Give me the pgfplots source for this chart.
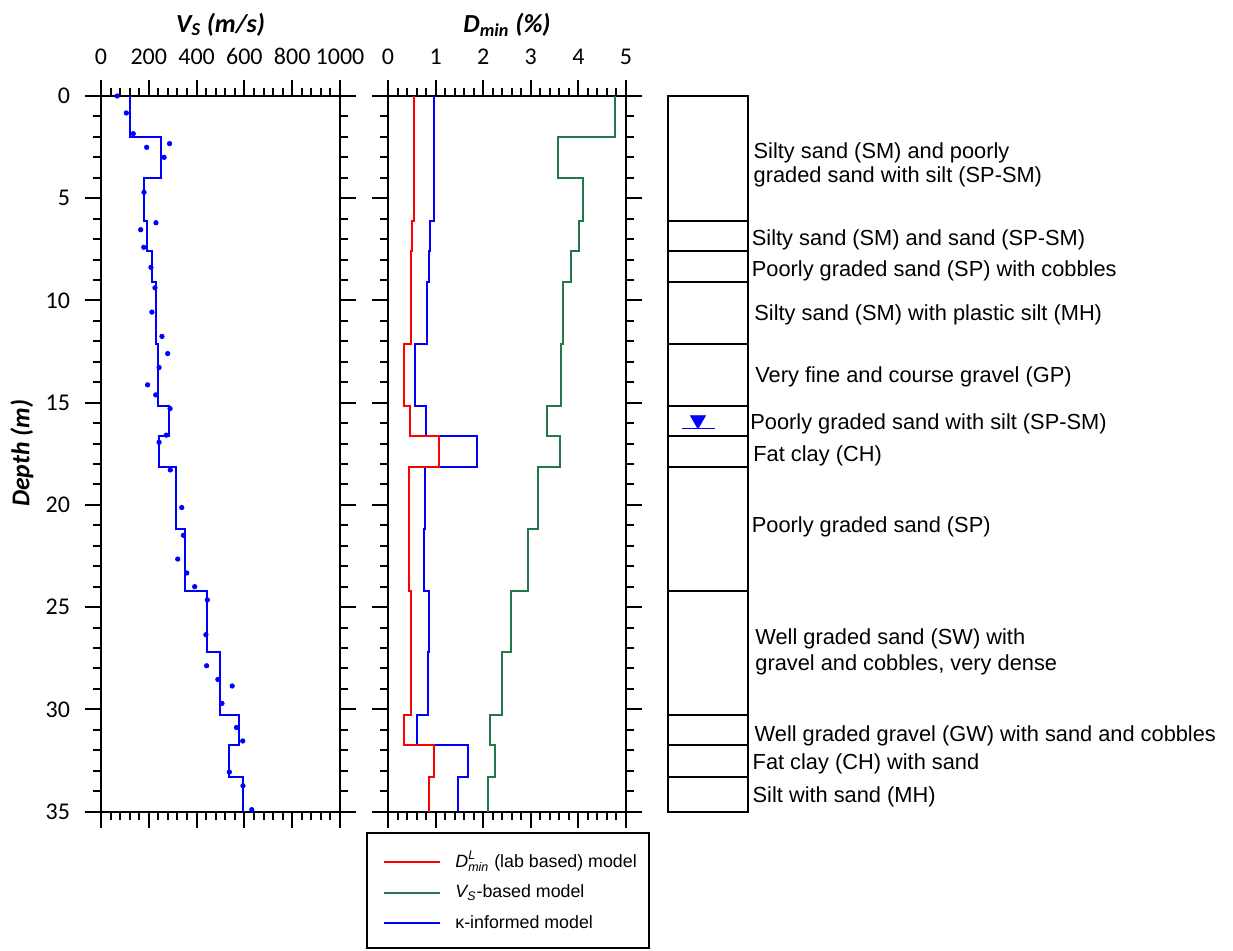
\documentclass[border=0pt]{standalone}
\usepackage{pgfplots}
\pgfplotsset{compat=1.18}
\usepackage{amsmath}
\usepackage{fontspec}
\setmainfont{Carlito}
\newfontfamily\arialfont{Liberation Sans}
\definecolor{vsgreen}{RGB}{35,120,75}

\pgfplotsset{
  profile/.style={
    scale only axis, height=357.75pt,
    ymin=0, ymax=35, y dir=reverse,
    ytick={0,5,...,35}, minor y tick num=4, minor x tick num=4,
    tick align=outside, tick pos=both, xticklabel pos=upper,
    major tick length=8pt, minor tick length=4pt,
    every tick/.style={black, line width=1pt},
    axis line style={line width=1pt},
    tick label style={font=\fontsize{12}{14}\selectfont},
    xticklabel style={yshift=4pt},
    yticklabel style={xshift=-4pt},
    /pgf/number format/assume math mode=true,
    /pgf/number format/1000 sep={},
  }
}

\begin{document}
\begin{tikzpicture}
\useasboundingbox (0pt,0pt) rectangle (616.5pt,-475pt);

% ---------------- shear-wave velocity profile ----------------
\begin{axis}[profile,
  at={(50.5pt,-48pt)}, anchor=north west, width=119.5pt,
  xmin=0, xmax=1000, xtick={0,200,...,1000},
  clip=false]
\addplot[blue, line width=1pt] coordinates {
 (121,0) (121,2.0) (250,2.0) (250,4.0) (180,4.0) (180,6.1)
 (192,6.1) (192,7.58) (212,7.58) (212,9.1) (232,9.1) (232,12.13)
 (237,12.13) (237,15.18) (284,15.18) (284,16.63) (241,16.63) (241,18.15)
 (314,18.15) (314,21.18) (353,21.18) (353,24.2) (444,24.2) (444,27.22)
 (497,27.22) (497,30.27) (579,30.27) (579,31.77) (537,31.77) (537,33.3)
 (594,33.3) (594,35)};
\addplot[only marks, mark=*, mark size=1.1pt, blue] coordinates {
 (68,0.0) (106,0.83) (135,1.84) (287,2.33) (191,2.51) (264,3.0)
 (180,4.71) (230,6.2) (166,6.54) (179,7.4) (209,8.38) (226,9.38)
 (213,10.57) (255,11.76) (279,12.6) (243,13.28) (195,14.13) (229,14.62)
 (289,15.29) (273,16.59) (243,16.94) (290,18.29) (338,20.13) (345,21.49)
 (321,22.65) (359,23.33) (392,24.0) (445,24.65) (439,26.35) (442,27.87)
 (489,28.54) (549,28.86) (506,29.71) (567,30.89) (593,31.55) (537,33.07)
 (594,33.74) (631,34.91)};
\end{axis}

% ---------------- minimum damping profiles ----------------
\begin{axis}[profile,
  at={(194pt,-48pt)}, anchor=north west, width=119pt,
  xmin=0, xmax=5, xtick={0,...,5}, yticklabels={},
  reverse legend,
  legend style={draw=none, fill=none, at={(axis description cs:-0.021,-0.058)},
    anchor=north west, legend cell align=left,
    font=\arialfont\fontsize{8.9}{10}\selectfont,
    inner sep=0pt, row sep=6.25pt, column sep=7pt,
    nodes={inner sep=0pt, text height=7pt, text depth=2pt}},
  legend image code/.code={\draw[#1, line width=1pt] (0pt,0pt) -- (28pt,0pt);}]
\addplot[blue, line width=1pt] coordinates {
 (0.966,0) (0.966,6.1) (0.882,6.1) (0.882,7.58) (0.861,7.58) (0.861,9.1)
 (0.826,9.1) (0.826,12.13) (0.574,12.13) (0.574,15.18) (0.79,15.18) (0.79,16.63)
 (1.863,16.63) (1.863,18.15) (0.77,18.15) (0.77,21.18) (0.763,21.18) (0.763,24.2)
 (0.854,24.2) (0.854,27.22) (0.847,27.22) (0.847,30.27) (0.61,30.27) (0.61,31.77)
 (1.674,31.77) (1.674,33.3) (1.478,33.3) (1.478,35)};
\addlegendentry{κ-informed model}
\addplot[vsgreen, line width=1pt] coordinates {
 (4.76,0) (4.76,2.0) (3.57,2.0) (3.57,4.0) (4.10,4.0) (4.10,6.1)
 (4.006,6.1) (4.006,7.58) (3.85,7.58) (3.85,9.1) (3.67,9.1) (3.67,12.13)
 (3.64,12.13) (3.64,15.18) (3.34,15.18) (3.34,16.63) (3.61,16.63) (3.61,18.15)
 (3.15,18.15) (3.15,21.18) (2.95,21.18) (2.95,24.2) (2.58,24.2) (2.58,27.22)
 (2.39,27.22) (2.39,30.27) (2.14,30.27) (2.14,31.77) (2.25,31.77) (2.25,33.3)
 (2.11,33.3) (2.11,35)};
\addlegendentry{{\itshape V}$_{\text{\itshape S}}$-based model}
\addplot[red, line width=1pt] coordinates {
 (0.553,0) (0.553,6.1) (0.504,6.1) (0.504,7.58) (0.49,7.58) (0.49,9.1)
 (0.476,9.1) (0.476,12.13) (0.33,12.13) (0.33,15.18) (0.455,15.18) (0.455,16.63)
 (1.08,16.63) (1.08,18.15) (0.448,18.15) (0.448,21.18) (0.44,21.18) (0.44,24.2)
 (0.483,24.2) (0.483,27.22) (0.48,27.22) (0.48,30.27) (0.336,30.27) (0.336,31.77)
 (0.973,31.77) (0.973,33.3) (0.861,33.3) (0.861,35)};
\addlegendentry{{\itshape D}$^{\text{\itshape L}}_{\text{\itshape min}}$ (lab based) model}
\end{axis}

% ---------------- soil column ----------------
\begin{axis}[
  at={(334pt,-48pt)}, anchor=north west,
  scale only axis, width=39.75pt, height=357.75pt,
  xmin=0, xmax=1, ymin=0, ymax=35, y dir=reverse,
  xtick=\empty, ytick=\empty, axis line style={line width=1pt},
  clip=false]
\addplot[xcomb, black, line width=1pt, mark=none] coordinates {
 (1,6.1) (1,7.58) (1,9.1) (1,12.13) (1,15.18) (1,16.63) (1,18.15)
 (1,24.2) (1,30.27) (1,31.77) (1,33.3)};
\addplot[blue, line width=0.8pt] coordinates {(0.18,16.27) (0.59,16.27)};
\addplot[only marks, blue, mark=triangle*, mark size=4.3pt,
  mark options={rotate=180}] coordinates {(0.377,15.85)};
\begin{scope}[every node/.style={anchor=base west, inner sep=0pt,
    font=\arialfont\fontsize{10.9}{13}\selectfont}]
\node[xshift=2.9pt]  at (axis cs:1,3.04)  {Silty sand (SM) and poorly};
\node[xshift=2.9pt]  at (axis cs:1,4.25)  {graded sand with silt (SP-SM)};
\node[xshift=2pt]    at (axis cs:1,7.30)  {Silty sand (SM) and sand (SP-SM)};
\node[xshift=2pt]    at (axis cs:1,8.81)  {Poorly graded sand (SP) with cobbles};
\node[xshift=3.25pt] at (axis cs:1,10.97) {Silty sand (SM) with plastic silt (MH)};
\node[xshift=3.75pt] at (axis cs:1,14.00) {Very fine and course gravel (GP)};
\node[xshift=1.25pt] at (axis cs:1,16.30) {Poorly graded sand with silt (SP-SM)};
\node[xshift=2.75pt] at (axis cs:1,17.86) {Fat clay (CH)};
\node[xshift=2pt]    at (axis cs:1,21.34) {Poorly graded sand (SP)};
\node[xshift=3.75pt] at (axis cs:1,26.82) {Well graded sand (SW) with};
\node[xshift=3.75pt] at (axis cs:1,28.09) {gravel and cobbles, very dense};
\node[xshift=3.4pt]  at (axis cs:1,31.56) {Well graded gravel (GW) with sand and cobbles};
\node[xshift=2.4pt]  at (axis cs:1,32.96) {Fat clay (CH) with sand};
\node[xshift=2.4pt]  at (axis cs:1,34.57) {Silt with sand (MH)};
\end{scope}
\end{axis}

% titles, depth label and legend frame
\node[anchor=base, font=\fontsize{13}{15}\selectfont\bfseries\itshape]
  at (110.25pt,-16pt) {V\textsubscript{S} (m/s)};
\node[anchor=base, font=\fontsize{13}{15}\selectfont\bfseries\itshape]
  at (253.5pt,-16pt) {D\textsubscript{min} (\%)};
\node[rotate=90, font=\fontsize{12.8}{15}\selectfont\bfseries\itshape]
  at (11pt,-226.7pt) {Depth (m)};
\draw[line width=0.9pt] (183.5pt,-416.5pt) rectangle (324.5pt,-474pt);
\end{tikzpicture}
\end{document}
